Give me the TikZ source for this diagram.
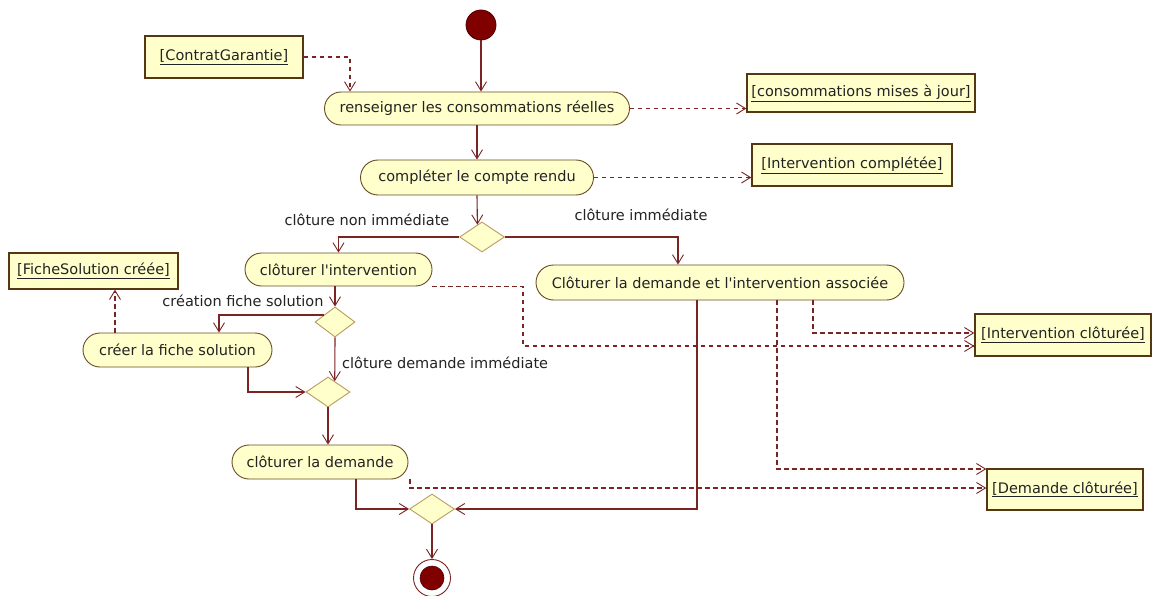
\documentclass[tikz,border=0pt]{standalone}
\usepackage{fontspec}
\setmainfont{DejaVu Sans}[Ligatures=TeXOff]
\usetikzlibrary{arrows.meta,shapes.geometric,shapes.misc,calc}
\definecolor{flowc}{RGB}{122,36,36}
\definecolor{actfill}{RGB}{255,255,204}
\definecolor{actdraw}{RGB}{105,75,35}
\definecolor{objdraw}{RGB}{85,55,20}
\definecolor{decdraw}{RGB}{185,155,95}
\definecolor{initc}{RGB}{128,0,0}
\definecolor{initd}{RGB}{80,0,0}
\definecolor{txt}{RGB}{35,35,35}
\tikzset{
  act/.style={rounded rectangle, draw=actdraw, fill=actfill, line width=0.9pt, inner sep=0pt, text=txt},
  obj/.style={rectangle, draw=objdraw, fill=actfill, line width=1.4pt, inner sep=0pt, text=txt},
  dec/.style={diamond, draw=decdraw, fill=actfill, line width=0.9pt, inner sep=0pt},
  lbl/.style={text=txt, inner sep=0pt},
  flow/.style={draw=flowc, line width=1.1pt, -{Straight Barb[length=9pt,width=11pt,line width=0.9pt]}},
  dflow/.style={flow, line width=1.15pt, dash pattern=on 4.5pt off 3.5pt}
}
\begin{document}
\begin{tikzpicture}[x=1pt,y=-1pt,font=\fontsize{14.5pt}{17pt}\selectfont]
\useasboundingbox[fill=white] (0,0) rectangle (1153,596);

% initial node
\node[circle, fill=initc, draw=initd, line width=0.8pt, minimum size=30pt, inner sep=0pt] (start) at (481,25) {};

% actions
\node[act, minimum width=305pt, minimum height=33pt] (a1) at (477,108.5) {renseigner les consommations réelles};
\node[act, minimum width=233pt, minimum height=35pt] (a2) at (477,177.5) {compléter le compte rendu};
\node[act, minimum width=187pt, minimum height=33pt] (a3) at (338.5,269.5) {clôturer l'intervention};
\node[act, minimum width=368pt, minimum height=35pt] (a4) at (720,282.5) {Clôturer la demande et l'intervention associée};
\node[act, minimum width=189pt, minimum height=34pt] (a5) at (177.5,350) {créer la fiche solution};
\node[act, minimum width=176pt, minimum height=34pt] (a6) at (320,462) {clôturer la demande};

% objects
\node[obj, minimum width=158pt, minimum height=42pt] (cg) at (224,57) {\underline{[ContratGarantie]}};
\node[obj, minimum width=228pt, minimum height=38pt] (cmj) at (861,93) {\underline{[consommations mises à jour]}};
\node[obj, minimum width=200pt, minimum height=42pt] (ic) at (852,165) {\underline{[Intervention complétée]}};
\node[obj, minimum width=169pt, minimum height=36pt] (fs) at (93.5,271) {\underline{[FicheSolution créée]}};
\node[obj, minimum width=176pt, minimum height=42pt] (icl) at (1063,335) {\underline{[Intervention clôturée]}};
\node[obj, minimum width=156pt, minimum height=41pt] (dc) at (1065,489.5) {\underline{[Demande clôturée]}};

% decisions
\node[dec, minimum width=45pt, minimum height=30pt] (d1) at (482,237) {};
\node[dec, minimum width=40pt, minimum height=30pt] (d2) at (335,322) {};
\node[dec, minimum width=44pt, minimum height=30pt] (d3) at (328,392) {};
\node[dec, minimum width=45pt, minimum height=30pt] (d4) at (432,509) {};

% final node
\node[circle, draw=flowc, fill=white, line width=0.9pt, minimum size=37pt, inner sep=0pt] (final) at (432,578) {};
\node[circle, fill=initc, draw=initd, line width=0.6pt, minimum size=24pt, inner sep=0pt] (finalin) at (final.center) {};

% guard labels
\node[lbl] (g1) at (367,220) {clôture non immédiate};
\node[lbl] (g2) at (641,215) {clôture immédiate};
\node[lbl] (g3) at (243,301) {création fiche solution};
\node[lbl, anchor=west] (g4) at (342,363) {clôture demande immédiate};

% helper coordinates
\coordinate (k1) at (678,237);
\coordinate (k2) at (219,0);
\coordinate (k3) at (248,0);
\coordinate (k4) at (356,0);
\coordinate (k5) at (697,0);
\coordinate (k6) at (350,0);
\coordinate (k7) at (523,346);
\coordinate (k9) at (813,333);
\coordinate (k10) at (777,469);
\coordinate (k11) at (410,488);
\coordinate (k12) at (115,0);

% control flows
\draw[flow] (start.south) -- (start.south |- a1.north);
\draw[flow] (a1.south) -- (a2.north);
\draw[flow] (a2.south) -- ($(d1.north)!0.2!(d1.west)$);
\draw[flow] (d1.west) -| (a3.north);
\draw[flow] (d1.east) -- (k1) -- (k1 |- a4.north);
\draw[flow] (a3.south -| d2.north) -- (d2.north);
\draw[flow] ($(d2.west)!0.45!(d2.north)$) -| (k2 |- a5.north);
\draw[flow] (d2.south) -- ($(d3.north)!0.3!(d3.east)$);
\draw[flow] (k3 |- a5.south) |- (d3.west);
\draw[flow] (d3.south) -- (d3.south |- a6.north);
\draw[flow] (k4 |- a6.south) |- (d4.west);
\draw[flow] (k5 |- a4.south) |- (d4.east);
\draw[flow] (d4.south) -- (final.north);

% object flows
\draw[dflow] (cg.east) -| (k6 |- a1.north);
\draw[dflow] (a1.east) -- (a1.east -| cmj.west);
\draw[dflow] (a2.east) -- (a2.east -| ic.west);
\draw[dflow] (k12 |- a5.north) -- (k12 |- fs.south);
\draw[dflow] (a3.south -| a3.east) -| (k7) -- (k7 -| icl.west);
\draw[dflow] (k9 |- a4.south) -- (k9) -- (k9 -| icl.west);
\draw[dflow] (k10 |- a4.south) -- (k10) -- (k10 -| dc.west);
\draw[dflow] (a6.south -| k11) -- (k11) -- (k11 -| dc.west);
\end{tikzpicture}
\end{document}
